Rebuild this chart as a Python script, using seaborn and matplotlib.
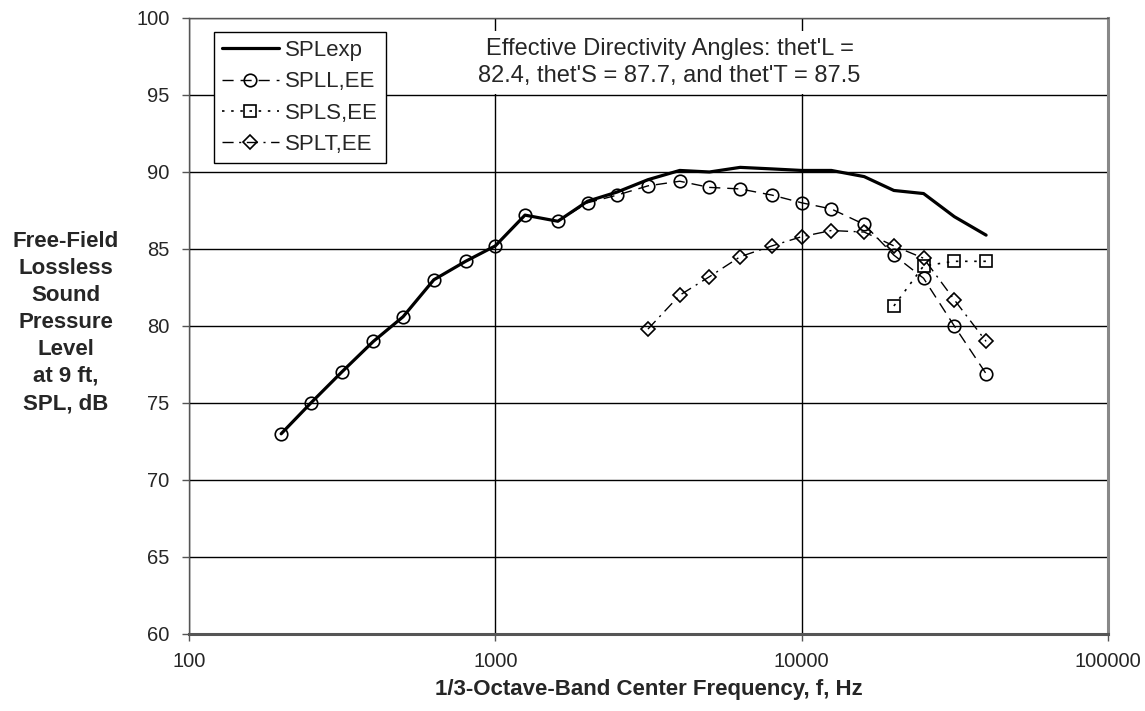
import numpy as np
import pandas as pd
import seaborn as sns
import matplotlib.pyplot as plt
from matplotlib.ticker import FixedLocator, FixedFormatter, NullLocator

# 1/3-octave band center frequencies, Hz
freq = [200, 250, 315, 400, 500, 630, 800, 1000, 1250, 1600, 2000, 2500,
        3150, 4000, 5000, 6300, 8000, 10000, 12500, 16000, 20000, 25000, 31500, 40000]

spl_exp = [73.0, 75.0, 77.0, 79.0, 80.6, 83.0, 84.2, 85.2, 87.2, 86.8, 88.1, 88.7,
           89.5, 90.1, 90.0, 90.3, 90.2, 90.1, 90.1, 89.7, 88.8, 88.6, 87.1, 85.9]
spl_l = [73.0, 75.0, 77.0, 79.0, 80.6, 83.0, 84.2, 85.2, 87.2, 86.8, 88.0, 88.5,
         89.1, 89.4, 89.0, 88.9, 88.5, 88.0, 87.6, 86.6, 84.6, 83.1, 80.0, 76.9]

freq_s = [20000, 25000, 31500, 40000]
spl_s = [81.3, 83.9, 84.2, 84.2]

freq_t = [3150, 4000, 5000, 6300, 8000, 10000, 12500, 16000, 20000, 25000, 31500, 40000]
spl_t = [79.8, 82.0, 83.2, 84.5, 85.2, 85.8, 86.2, 86.1, 85.2, 84.4, 81.7, 79.0]

sns.set_style("white")
plt.rcParams['font.family'] = ['Liberation Sans', 'DejaVu Sans']

fig = plt.figure(figsize=(11.45, 7.11), dpi=100)
ax = fig.add_axes([0.165, 0.1083, 0.8027, 0.8664])

sns.lineplot(x=freq, y=spl_exp, ax=ax, color='black', lw=2.3, label='SPLexp')
sns.lineplot(x=freq, y=spl_l, ax=ax, color='black', lw=1.0, marker='o', ms=9,
             mfc='none', mec='black', mew=1.2, dashes=(8, 5), label='SPLL,EE')
sns.lineplot(x=freq_s, y=spl_s, ax=ax, color='black', lw=1.2, marker='s', ms=8.5,
             mfc='none', mec='black', mew=1.2, dashes=(1.5, 4), label='SPLS,EE')
sns.lineplot(x=freq_t, y=spl_t, ax=ax, color='black', lw=1.0, marker='D', ms=7.5,
             mfc='none', mec='black', mew=1.2, dashes=(8, 4, 1.5, 4), label='SPLT,EE')

ax.set_xscale('log')
ax.set_xlim(100, 100000)
ax.set_ylim(60, 100)
ax.xaxis.set_major_locator(FixedLocator([100, 1000, 10000, 100000]))
ax.xaxis.set_major_formatter(FixedFormatter(['100', '1000', '10000', '100000']))
ax.xaxis.set_minor_locator(NullLocator())
ax.set_yticks(np.arange(60, 101, 5))

ax.grid(True, which='major', color='black', lw=1.0)
for s in ['top', 'left', 'bottom']:
    ax.spines[s].set_color('#555555')
    ax.spines[s].set_linewidth(1.0)
ax.spines['bottom'].set_linewidth(2.2)
ax.spines['right'].set_color('#888888')
ax.spines['right'].set_linewidth(2.2)
ax.tick_params(axis='both', direction='out', length=5, width=1, color='#555555',
               labelsize=14.5, bottom=True, left=True)
ax.tick_params(axis='x', pad=8)
ax.tick_params(axis='y', pad=9)

ax.set_xlabel('1/3-Octave-Band Center Frequency, f, Hz', fontsize=16, fontweight='bold',
              labelpad=6)
ax.set_ylabel('Free-Field\nLossless\nSound\nPressure\nLevel\nat 9 ft,\nSPL, dB',
              fontsize=16, fontweight='bold', rotation=0, va='center', ha='center',
              linespacing=1.38)
ax.yaxis.set_label_coords(-0.134, 0.506)

ax.text(0.523, 0.968, "Effective Directivity Angles: thet'L =\n82.4, thet'S = 87.7, and thet'T = 87.5",
        transform=ax.transAxes, ha='center', va='top', fontsize=17, linespacing=1.3,
        bbox=dict(facecolor='white', edgecolor='none', pad=5), zorder=5)

leg = ax.legend(loc='upper left', bbox_to_anchor=(0.027, 0.977), fontsize=16,
                handlelength=2.6, handletextpad=0.25, borderpad=0.35, labelspacing=0.47,
                borderaxespad=0, fancybox=False, framealpha=1)
leg.get_frame().set_edgecolor('black')
leg.get_frame().set_linewidth(1.0)

fig.savefig('out.png', dpi=100)
